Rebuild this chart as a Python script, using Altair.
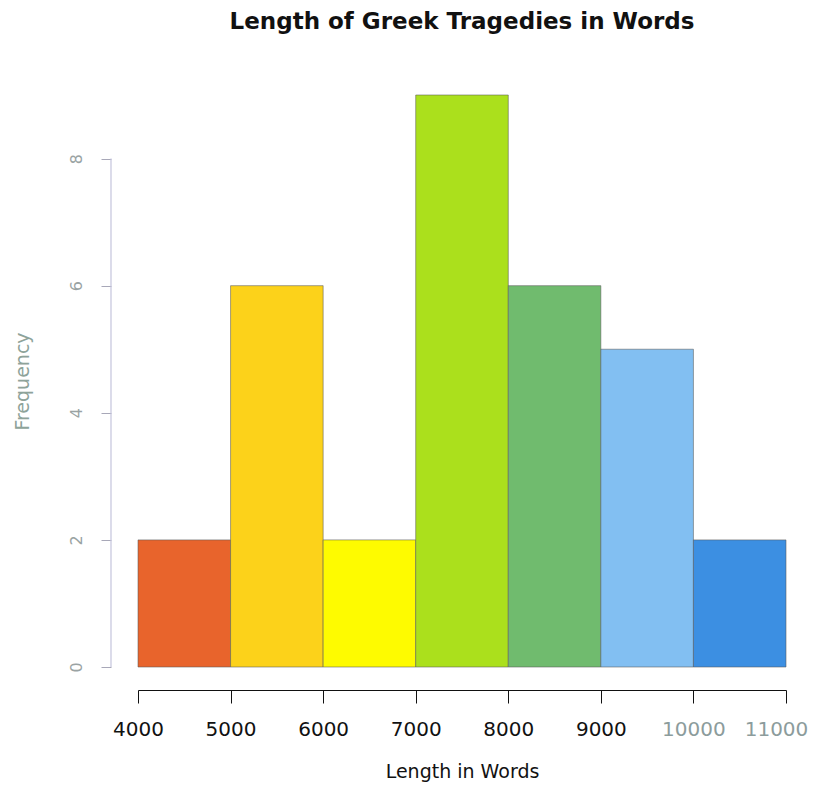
import altair as alt
import pandas as pd

bin_start = [4000, 5000, 6000, 7000, 8000, 9000, 10000]
bin_end = [5000, 6000, 7000, 8000, 9000, 10000, 11000]
counts = [2, 6, 2, 9, 6, 5, 2]
bar_colors = ["#e8642c", "#fcd21a", "#fefb00", "#abe01c", "#70bb6e", "#82bff2", "#3c8fe2"]
x_ticks = [4000, 5000, 6000, 7000, 8000, 9000, 10000, 11000]
y_ticks = [0, 2, 4, 6, 8]

df = pd.DataFrame({
    "start": bin_start,
    "end": bin_end,
    "count": counts,
    "bin": [f"{a}-{b}" for a, b in zip(bin_start, bin_end)],
})

FONT = "DejaVu Sans"

x_scale = alt.Scale(domain=[4000, 11000], nice=False, zero=False)
y_scale = alt.Scale(domain=[0, 9], nice=False)

bars = alt.Chart(df).mark_rect(stroke="#5a5a5a", strokeWidth=1, strokeOpacity=0.55).encode(
    x=alt.X("start:Q", scale=x_scale,
            axis=alt.Axis(values=x_ticks, format="d", title="Length in Words",
                          offset=23, grid=False, domainColor="#111111", domainWidth=1.2,
                          tickColor="#111111", tickSize=13, tickWidth=1,
                          labelFont=FONT, labelFontSize=20,
                          labelColor={"condition": {"test": "datum.value >= 10000", "value": "#8c9c9c"},
                                      "value": "#111111"},
                          labelOffset={"condition": {"test": "datum.value >= 11000", "value": -10},
                                       "value": 0},
                          labelPadding=16, labelFlush=False, labelOverlap=False,
                          titleFont=FONT, titleFontSize=19, titleFontWeight="normal",
                          titleColor="#111111", titleBaseline="middle", titleY=81)),
    x2="end:Q",
    y=alt.Y("count:Q", scale=y_scale,
            axis=alt.Axis(values=y_ticks, format="d", title="Frequency", offset=27, grid=False,
                          domain=False, tickColor="#a8a8b8", tickSize=10, tickWidth=1,
                          labelFont=FONT, labelFontSize=16, labelColor="#9aa3a3",
                          labelAngle=-90, labelAlign="center", labelBaseline="bottom",
                          labelPadding=17,
                          titleFont=FONT, titleFontSize=19, titleFontWeight="normal",
                          titleColor="#8ea39a", titleAngle=-90, titleAlign="center",
                          titleBaseline="middle", titleX=-89, titleY=286)),
    y2=alt.datum(0),
    color=alt.Color("bin:N", scale=alt.Scale(domain=df["bin"].tolist(), range=bar_colors), legend=None),
)

yline = alt.Chart(pd.DataFrame({"lo": [y_ticks[0]], "hi": [y_ticks[-1]]})).mark_rule(
    color="#c4c4dc", strokeWidth=1.2
).encode(
    x=alt.value(-27),
    y=alt.Y("lo:Q", scale=y_scale),
    y2="hi:Q",
)

chart = alt.layer(bars, yline).properties(
    width=648,
    height=572,
    title=alt.TitleParams("Length of Greek Tragedies in Words", font=FONT, fontSize=23,
                          fontWeight="bold", color="#111111", anchor="middle",
                          frame="group", baseline="middle", offset=50),
    autosize=alt.AutoSizeParams(type="none"),
    padding={"left": 130, "top": 87, "right": 23, "bottom": 117},
).configure_view(stroke=None)

chart.save("out.html", embed_options={"renderer": "svg", "actions": False})
